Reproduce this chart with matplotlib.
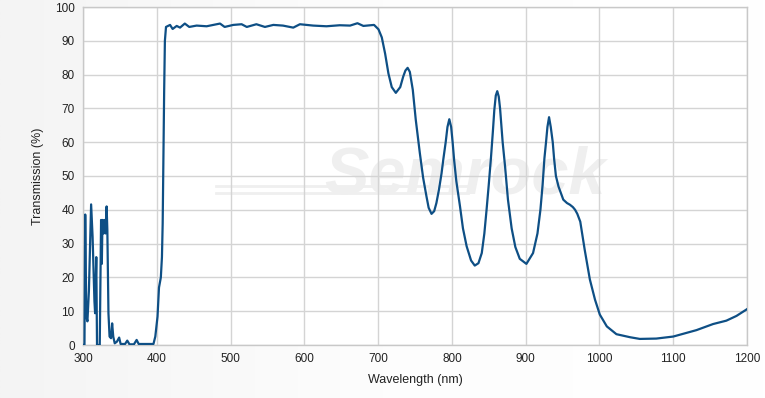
import numpy as np
import matplotlib
matplotlib.use("Agg")
import matplotlib.pyplot as plt

# wavelength (nm) and transmission (%)
wavelength = [
    300, 302, 303, 304.5, 306, 308, 311, 313, 315.5, 316.4, 318, 319, 322.7,
    324.5, 325.5, 326.4, 327.7, 329, 330.5, 332, 333, 334.5, 336, 338, 339.5,
    341, 343, 346, 349, 351, 357, 360, 363, 369, 372.7, 375.5, 395.5, 398,
    401, 403, 405.5, 407, 408, 409, 410, 411, 412.5, 418, 421.5, 427, 431.5,
    438, 444, 454, 467.6, 485.7, 492, 503.7, 515, 522, 535, 546.6, 558, 571,
    585, 594, 612, 630, 648, 662, 672, 680, 689, 694.5, 700.5, 705, 709.5,
    714, 718.5, 724, 730, 734, 737, 740, 743, 747, 751, 756.6, 761, 765.6,
    768.5, 772.4, 776, 779, 782.5, 786, 788.3, 791.6, 794, 796.5, 799, 801,
    803, 806, 811, 815, 820, 826, 831, 836, 840.5, 844, 847, 850, 853, 855.5,
    857.5, 859.5, 861.5, 863.5, 865.3, 868.8, 872, 876, 881, 886, 892, 901,
    910, 916, 920, 923, 925.4, 927.6, 929.5, 931.7, 934, 936.7, 938.5, 941,
    944.5, 951, 956, 960, 964, 967, 970, 974, 980, 987, 994, 1000.5, 1010,
    1023, 1041.5, 1054.7, 1077, 1100, 1131.5, 1154, 1172, 1185.7, 1200,
]
transmission = [
    0, 0, 38.6, 8.4, 7, 16, 41.6, 32, 13, 9.4, 26, 0, 0,
    37, 24, 37, 33, 37, 33, 41, 34, 9.4, 2.5, 2, 6.4,
    2.5, 0.5, 1, 2.2, 0.3, 0.3, 1.3, 0.2, 0.2, 1.5, 0.3, 0.3, 2.5,
    8.4, 17, 20, 26, 36, 55, 75, 90, 94.1, 94.7, 93.5, 94.4, 93.9,
    95.1, 94.1, 94.5, 94.3, 95.1, 94.1, 94.7, 94.9, 94.1, 94.9, 94.1, 94.7, 94.5,
    93.9, 94.9, 94.5, 94.3, 94.6, 94.5, 95.2, 94.4, 94.6, 94.7, 93.4, 91, 86.2,
    80.3, 76.3, 74.6, 76.3, 79.4, 81.2, 82, 80.8, 75.5, 66.7, 56.7, 49.5, 43.9,
    40.6, 38.8, 39.6, 42, 46, 50.8, 54.8, 60, 64.5, 66.8, 64.5, 60,
    54.8, 48.5, 41, 34.5, 29.2, 25, 23.5, 24.2, 27.2, 33, 40, 47.5, 55.5, 63,
    69.5, 73.8, 75.1, 73.5, 70, 60, 53, 43, 34.5, 29, 25.5, 24,
    27.2, 33, 40, 47.5, 55.2, 60, 64.5, 67.4, 64.5, 60, 55.2, 50,
    46.9, 43, 42, 41.5, 40.8, 40, 38.8, 36.5, 28.2, 19.4, 13.4, 9, 5.5,
    3.2, 2.3, 1.8, 1.9, 2.5, 4.4, 6.2, 7.2, 8.6, 10.6,
]
x_ticks = [300, 400, 500, 600, 700, 800, 900, 1000, 1100, 1200]
y_ticks = [0, 10, 20, 30, 40, 50, 60, 70, 80, 90, 100]

plt.rcParams["font.family"] = ["Liberation Sans", "DejaVu Sans"]

fig = plt.figure(figsize=(7.65, 3.98), dpi=100)

# soft grey-to-white backdrop
bg = fig.add_axes([0, 0, 1, 1], zorder=-10)
grad = np.linspace(0, 1, 256).reshape(1, -1)
bg.imshow(grad, aspect="auto", cmap=matplotlib.colors.LinearSegmentedColormap.from_list(
    "bg", ["#f4f4f4", "#fdfdfd", "#ffffff"]), extent=[0, 1, 0, 1])
bg.axis("off")

ax = fig.add_axes([83 / 765, 1 - 345 / 398, 664 / 765, 338 / 398])
ax.set_facecolor("white")

# watermark
ax.text(0.575, 0.5, "Semrock", transform=ax.transAxes, fontsize=48, fontweight="bold",
        fontstyle="italic", color="#efefef", ha="center", va="center", zorder=0)
ax.plot([0.2, 0.58], [0.45, 0.45], transform=ax.transAxes, color="#efefef", lw=2, zorder=0)
ax.plot([0.2, 0.58], [0.47, 0.47], transform=ax.transAxes, color="#efefef", lw=2, zorder=0)

ax.plot(wavelength, transmission, color="#0e4f85", linewidth=1.6, zorder=3)

ax.set_xlim(300, 1200)
ax.set_ylim(0, 100)
ax.set_xticks(x_ticks)
ax.set_yticks(y_ticks)
ax.grid(True, color="#d4d4d4", linewidth=1)
ax.set_axisbelow(True)
ax.tick_params(length=0, labelsize=8.5, colors="#222222", pad=6)
for s in ax.spines.values():
    s.set_color("#c8c8c8")
    s.set_linewidth(1)

ax.set_xlabel("Wavelength (nm)", fontsize=9, color="#222222", labelpad=6)
ax.set_ylabel("Transmission (%)", fontsize=9, color="#222222", labelpad=8)

fig.savefig("out.png", dpi=100)
